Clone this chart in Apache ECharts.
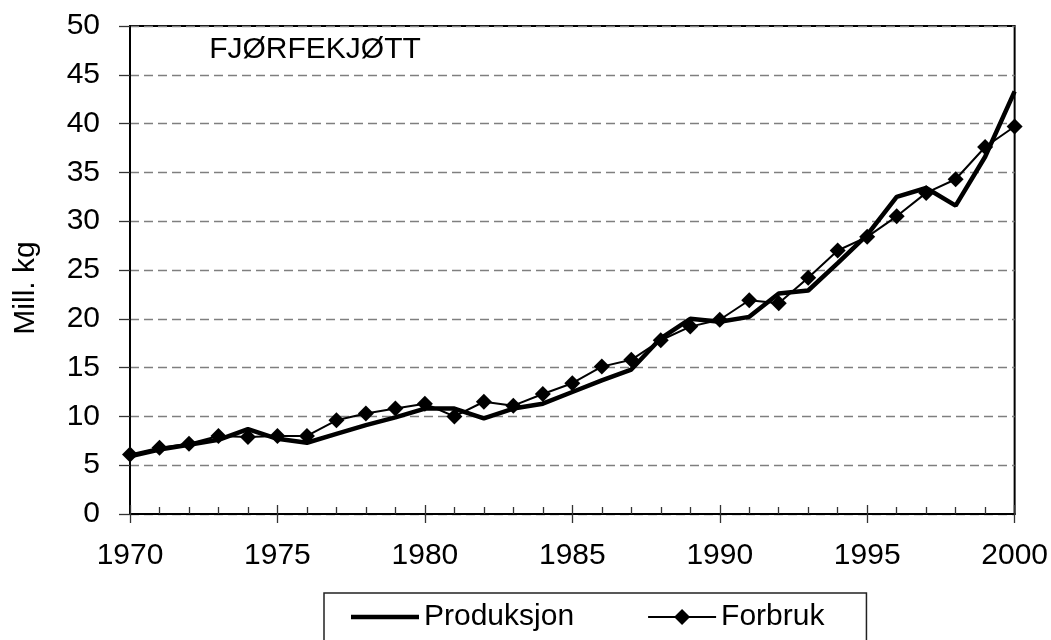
<!DOCTYPE html>
<html>
<head>
<meta charset="utf-8">
<script src="https://cdn.jsdelivr.net/npm/echarts@6/dist/echarts.min.js"></script>
<style>
html,body{margin:0;padding:0;background:#fff;}
#chart{width:1051px;height:640px;}
</style>
</head>
<body>
<div id="chart"></div>
<script>
// ---- data ----
const years = [1970,1971,1972,1973,1974,1975,1976,1977,1978,1979,1980,1981,1982,1983,1984,1985,1986,1987,1988,1989,1990,1991,1992,1993,1994,1995,1996,1997,1998,1999,2000];
const produksjon = [5.9,6.6,7.1,7.6,8.7,7.7,7.3,8.2,9.1,9.9,10.8,10.8,9.8,10.8,11.3,12.5,13.7,14.8,18.0,20.0,19.7,20.2,22.6,22.9,25.7,28.6,32.5,33.4,31.6,36.6,43.3];
const forbruk = [6.1,6.8,7.2,8.0,7.9,8.0,8.0,9.6,10.3,10.8,11.3,10.0,11.5,11.1,12.3,13.4,15.1,15.8,17.8,19.2,19.9,21.9,21.6,24.2,27.0,28.4,30.5,32.9,34.3,37.6,39.7];
const seriesNames = ['Produksjon','Forbruk'];
const chartTitle = 'FJØRFEKJØTT';
const yAxisTitle = 'Mill. kg';

const FONT = '"Liberation Sans", Arial, sans-serif';
const pairs = arr => years.map((y,i)=>[y, arr[i]]);

const chart = echarts.init(document.getElementById('chart'), null, {renderer:'canvas'});
chart.setOption({
  animation:false,
  backgroundColor:'#fff',
  textStyle:{fontFamily:FONT},
  grid:{left:130, right:35, top:26, bottom:126, show:true, borderColor:'#000', borderWidth:2, backgroundColor:'transparent'},
  xAxis:[{
    type:'value', min:1970, max:2000, interval:5, position:'bottom',
    axisLine:{show:true, lineStyle:{color:'#000', width:2}},
    axisTick:{show:true, inside:true, length:9, lineStyle:{color:'#333', width:1.3}},
    minorTick:{show:true, splitNumber:5, length:7, lineStyle:{color:'#333', width:1.3}},
    axisLabel:{fontSize:30, color:'#000', margin:27, fontFamily:FONT, formatter:v=>String(v)},
    splitLine:{show:false}
  },{
    type:'value', min:1970, max:2000, interval:5, position:'bottom',
    axisLine:{show:false},
    axisTick:{show:true, inside:false, length:9, lineStyle:{color:'#333', width:1.3}},
    axisLabel:{show:false},
    splitLine:{show:false}
  }],
  yAxis:{
    type:'value', min:0, max:50, interval:5,
    axisLine:{show:true, lineStyle:{color:'#000', width:2}},
    axisTick:{show:true, inside:false, length:11, lineStyle:{color:'#333', width:1.3}},
    axisLabel:{fontSize:30, color:'#000', margin:30, fontFamily:FONT, formatter:v=>String(v)},
    splitLine:{show:true, lineStyle:{color:'#7f7f7f', width:1.3, type:[9,5]}}
  },
  legend:{
    left:324, top:593, orient:'horizontal',
    padding:[9,42,40,27],
    itemGap:73, itemWidth:68, itemHeight:20,
    borderColor:'#222', borderWidth:1.5,
    textStyle:{fontSize:30, color:'#000', fontFamily:FONT},
    data:[
      {name:seriesNames[0], icon:'path://M0,0 L68,0 L68,4.5 L0,4.5 Z', itemStyle:{color:'#000'}},
      {name:seriesNames[1]}
    ]
  },
  graphic:[
    {type:'text', x:315, y:50, style:{text:chartTitle, font:'30px '+FONT, fill:'#000', align:'center', verticalAlign:'middle'}},
    {type:'text', x:26, y:288, rotation:Math.PI/2, style:{text:yAxisTitle, font:'30px '+FONT, fill:'#000', align:'center', verticalAlign:'middle'}}
  ],
  series:[
    {name:seriesNames[0], type:'line', data:pairs(produksjon), xAxisIndex:0, symbol:'none', showSymbol:false,
     lineStyle:{color:'#000', width:4.5}, itemStyle:{color:'#000'}, z:2},
    {name:seriesNames[1], type:'line', data:pairs(forbruk), xAxisIndex:0, symbol:'diamond', symbolSize:16,
     lineStyle:{color:'#000', width:2}, itemStyle:{color:'#000'}, z:3}
  ]
});
</script>
</body>
</html>
